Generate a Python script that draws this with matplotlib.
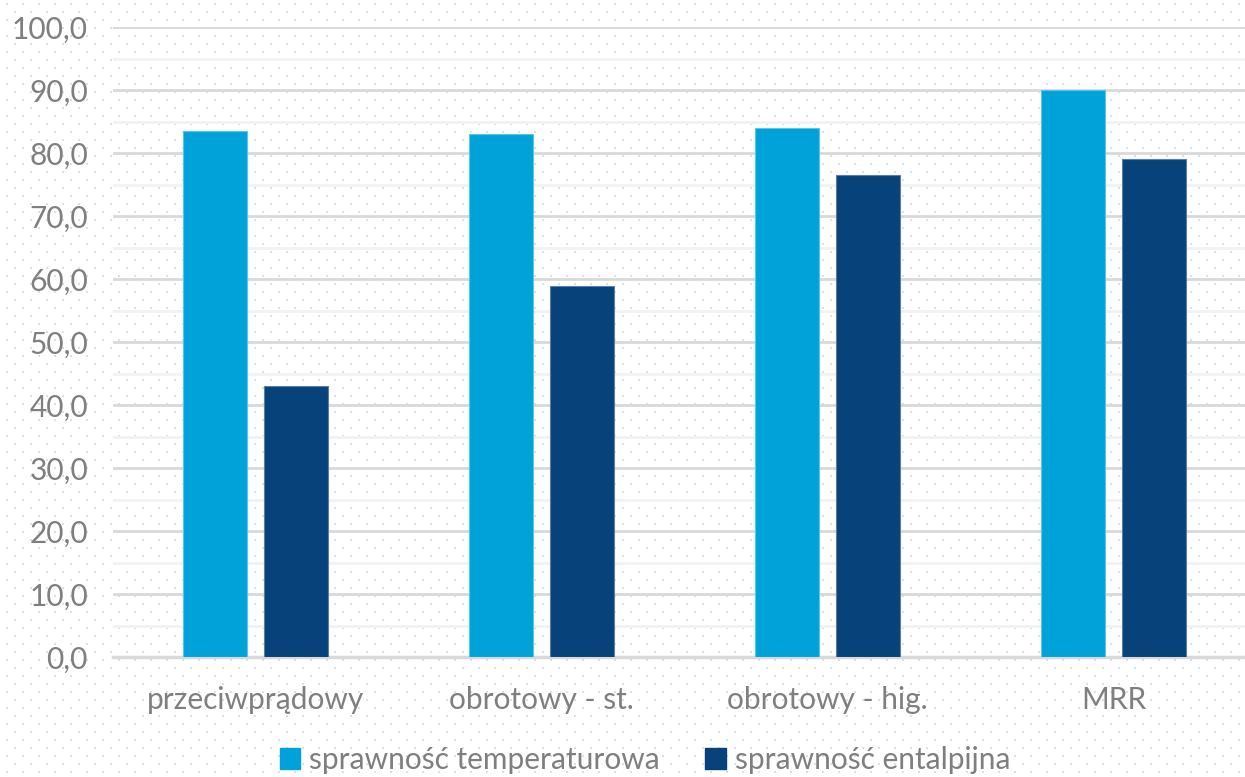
import numpy as np
import matplotlib
matplotlib.use("Agg")
import matplotlib.pyplot as plt
from matplotlib.patches import Patch
from matplotlib.ticker import MultipleLocator, FuncFormatter

categories = ["przeciwprądowy", "obrotowy - st.", "obrotowy - hig.", "MRR"]
temp_eff = [83.5, 83.0, 84.0, 90.0]
enth_eff = [43.0, 58.9, 76.5, 79.0]
series_names = ["sprawność temperaturowa", "sprawność entalpijna"]

TEMP_COLOR = "#00a3d9"
ENTH_COLOR = "#07427a"
TEXT_COLOR = "#7f7f7f"

plt.rcParams["font.family"] = ["Lato", "DejaVu Sans"]

W, H = 1245, 777
fig = plt.figure(figsize=(W / 100, H / 100), dpi=100)
fig.patch.set_facecolor("white")

# dotted background over the whole figure
bg = fig.add_axes([0, 0, 1, 1], zorder=-1)
bg.set_xlim(0, W)
bg.set_ylim(H, 0)
bg.axis("off")
dx, dy = 16, 8
pts = []
for r, y in enumerate(np.arange(4, H, dy)):
    off = 0 if r % 2 == 0 else dx / 2
    for x in np.arange(7 + off, W, dx):
        pts.append((x, y))
pts = np.array(pts)
bg.scatter(pts[:, 0], pts[:, 1], s=2.4, marker="s", color="#cfe4ee", linewidths=0)

left, right = 113 / W, 1.0
bottom, top = (H - 657) / H, (H - 27) / H
ax = fig.add_axes([left, bottom, right - left, top - bottom])
ax.patch.set_alpha(0)

x = np.arange(len(categories))
bw = 0.224
off = 0.1416
ax.bar(x - off, temp_eff, bw, color=TEMP_COLOR, edgecolor="#5cc6ea", linewidth=0.8, zorder=3)
ax.bar(x + off, enth_eff, bw, color=ENTH_COLOR, edgecolor="#5d7ea3", linewidth=0.8, zorder=3)

ax.set_ylim(0, 100)
ax.set_xlim(-0.5, (W - 255.5) / 286)
ax.yaxis.set_major_locator(MultipleLocator(10))
ax.yaxis.set_minor_locator(MultipleLocator(5))
ax.yaxis.set_major_formatter(FuncFormatter(lambda v, p: f"{v:.1f}".replace(".", ",")))
ax.grid(axis="y", which="major", color="#d9d9d9", linewidth=2.0, zorder=1)
ax.grid(axis="y", which="minor", color="#f2f2f2", linewidth=2.0, zorder=1)
ax.set_axisbelow(True)

for s in ["top", "right", "left"]:
    ax.spines[s].set_visible(False)
ax.spines["bottom"].set_color("#d9d9d9")
ax.spines["bottom"].set_linewidth(2.5)

ax.set_xticks(x)
ax.set_xticklabels(categories)
ax.tick_params(axis="x", length=0, pad=21, labelsize=21.5, labelcolor=TEXT_COLOR)
ax.tick_params(axis="y", which="both", length=0, pad=18, labelsize=21.5, labelcolor=TEXT_COLOR)

handles = [Patch(color=TEMP_COLOR), Patch(color=ENTH_COLOR)]
fig.legend(handles, series_names, loc="lower center", bbox_to_anchor=(0.518, -0.031),
           ncol=2, frameon=False, fontsize=21.5, labelcolor=TEXT_COLOR,
           handlelength=0.7, handleheight=0.7, handletextpad=0.3, columnspacing=1.5)

fig.savefig("out.png", dpi=100, facecolor="white")
